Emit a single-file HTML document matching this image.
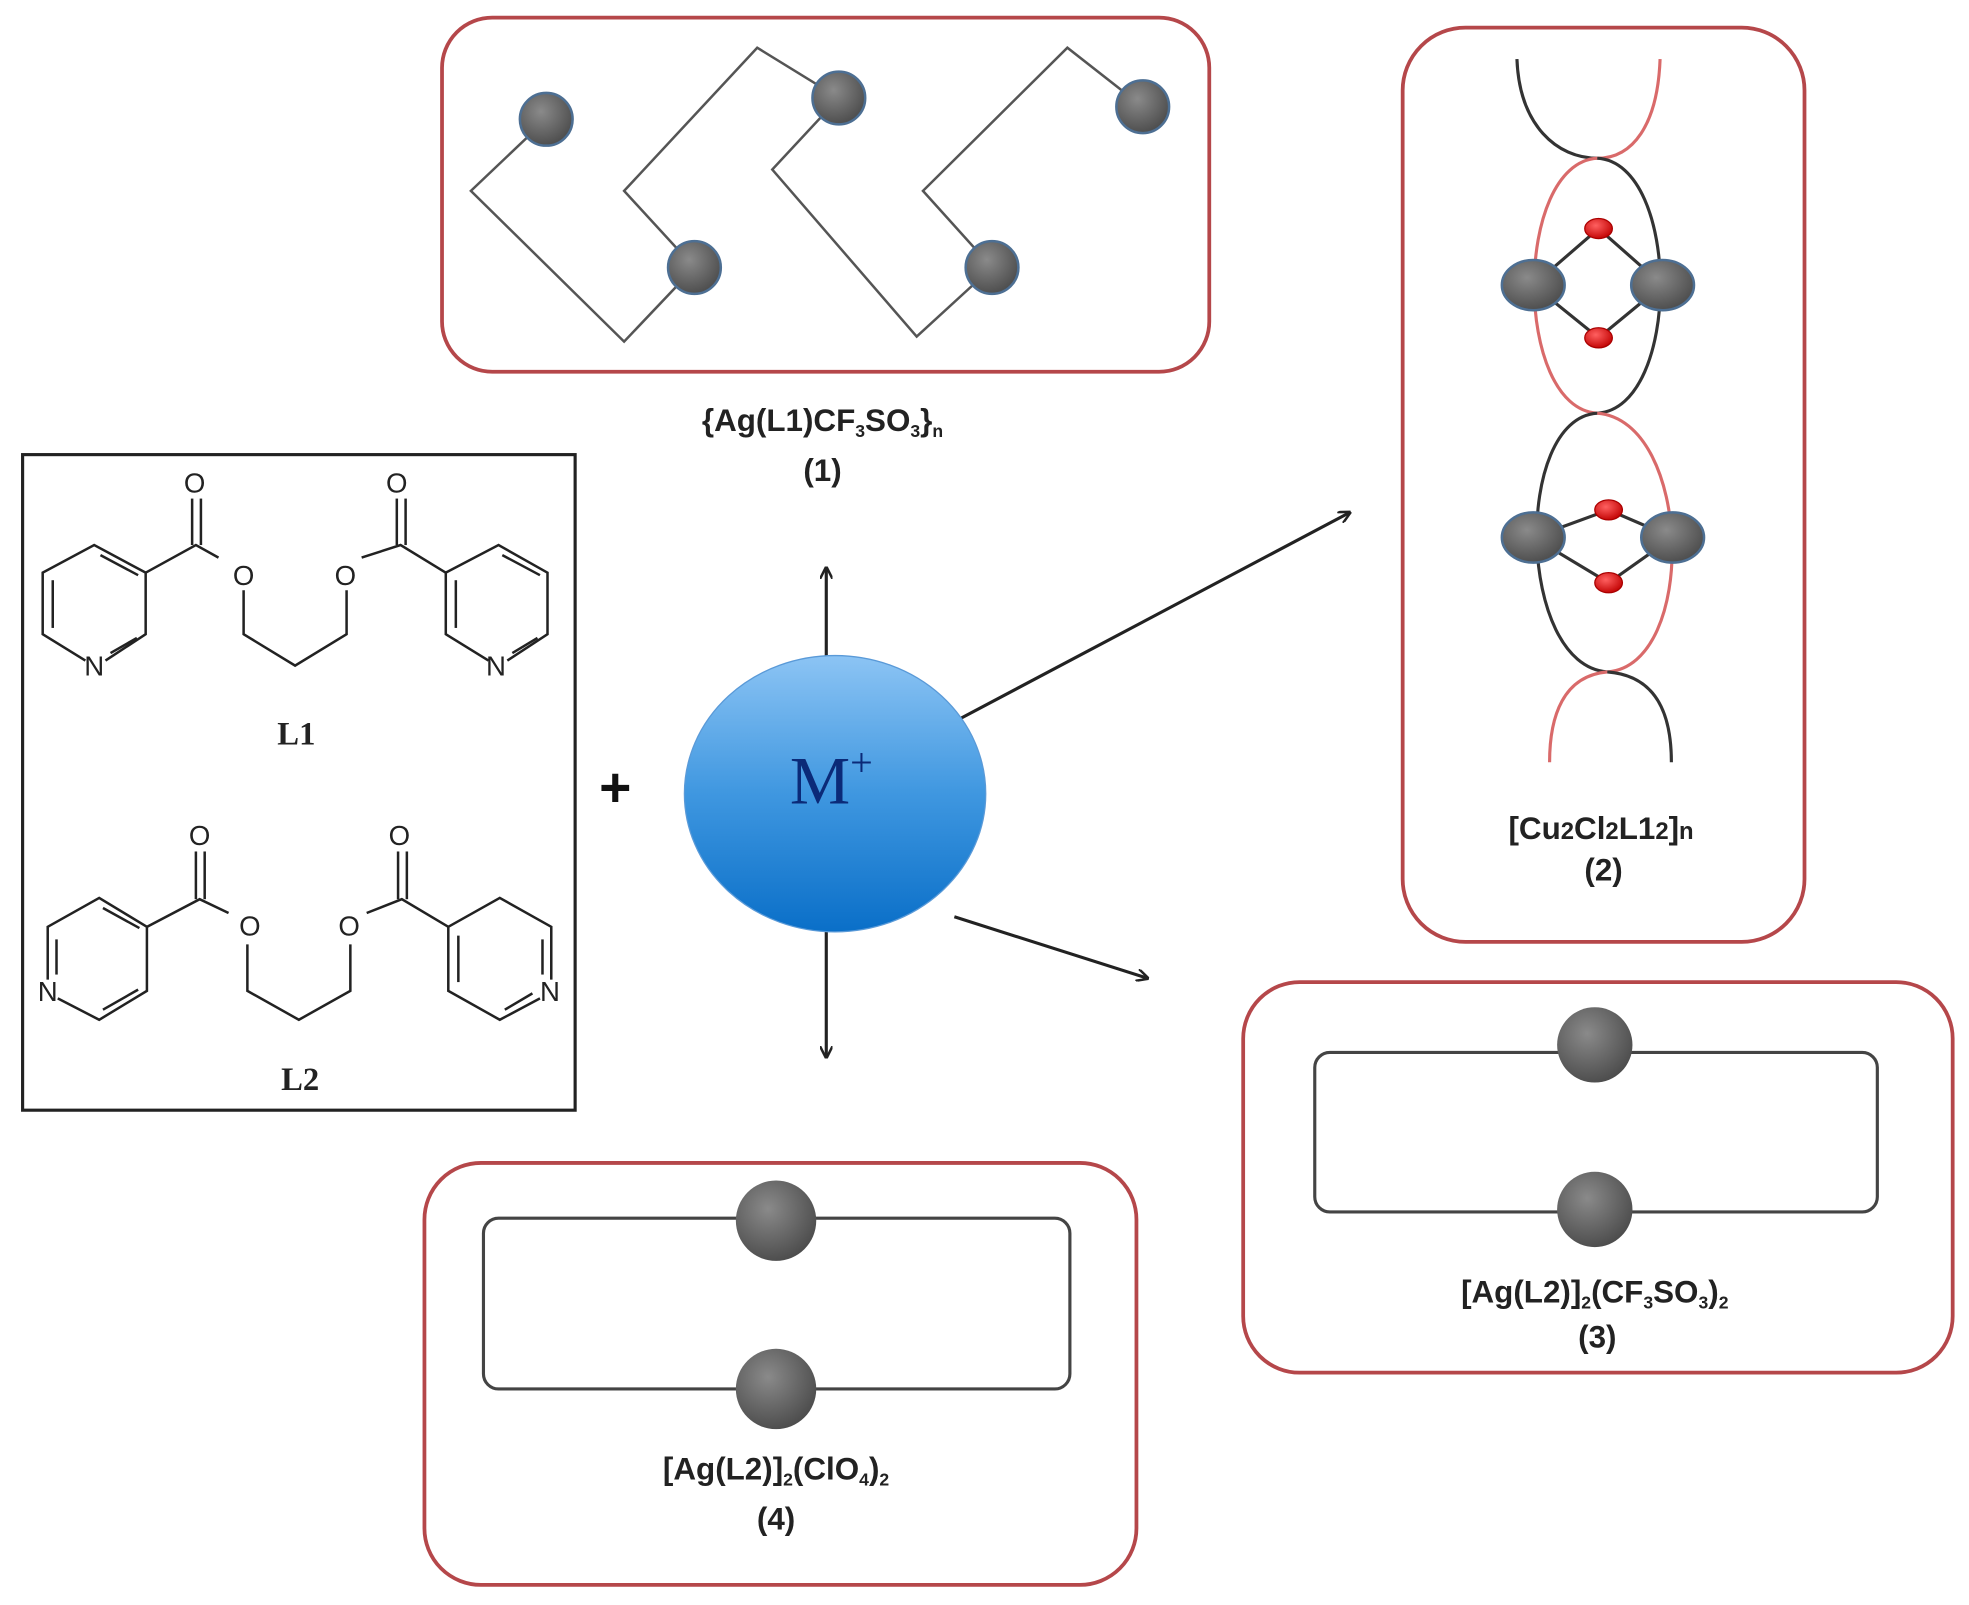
<!DOCTYPE html>
<html><head><meta charset="utf-8"><style>html,body{margin:0;padding:0;background:#fff}svg{display:block}</style></head>
<body>
<svg width="1969" height="1605" viewBox="0 0 1568 1278" preserveAspectRatio="none" xmlns="http://www.w3.org/2000/svg">
<defs>
<radialGradient id="gb" cx="40%" cy="35%" r="70%"><stop offset="0" stop-color="#8a8a8a"/><stop offset="1" stop-color="#4a4a4a"/></radialGradient>
<radialGradient id="rb" cx="40%" cy="35%" r="70%"><stop offset="0" stop-color="#ff6060"/><stop offset="1" stop-color="#c00000"/></radialGradient>
<linearGradient id="bl" x1="0" y1="0" x2="0" y2="1"><stop offset="0" stop-color="#8cc4f4"/><stop offset="0.5" stop-color="#3f97e0"/><stop offset="1" stop-color="#0a6fc8"/></linearGradient>
<marker id="ah" markerWidth="10" markerHeight="10" refX="9" refY="5" orient="auto" markerUnits="userSpaceOnUse"><path d="M0,0 L10,5 L0,10" fill="none" stroke="#222" stroke-width="2"/></marker>
</defs>
<g font-family="Liberation Sans, Arial, sans-serif">
<!-- Box 1 -->
<rect x="352" y="14" width="611" height="282" rx="40" fill="none" stroke="#b5474a" stroke-width="3"/>
<g fill="none" stroke="#555" stroke-width="2">
<polyline points="435,95 375,152 497,272 553,213"/>
<polyline points="553,213 497,152 603,38 668,78"/>
<polyline points="668,78 615,135 730,268 790,213"/>
<polyline points="790,213 735,152 850,38 910,85"/>
</g>
<g fill="url(#gb)" stroke="#4d6f93" stroke-width="2">
<circle cx="435" cy="95" r="21"/><circle cx="553" cy="213" r="21"/><circle cx="668" cy="78" r="21"/><circle cx="790" cy="213" r="21"/><circle cx="910" cy="85" r="21"/>
</g>
<text x="655" y="343" font-size="25" font-weight="bold" text-anchor="middle" fill="#222">{Ag(L1)CF<tspan font-size="14" dy="5">3</tspan><tspan dy="-5">SO</tspan><tspan font-size="14" dy="5">3</tspan><tspan dy="-5">}</tspan><tspan font-size="14" dy="5">n</tspan></text>
<text x="655" y="383" font-size="25" font-weight="bold" text-anchor="middle" fill="#222">(1)</text>

<!-- Box 2 -->
<rect x="1117" y="22" width="320" height="728" rx="50" fill="none" stroke="#b5474a" stroke-width="3"/>
<g fill="none" stroke-width="2.5">
<path d="M1208,47 C1210,100 1240,126 1272,126" stroke="#333"/>
<path d="M1322,47 C1320,100 1300,126 1272,126" stroke="#d96a6a"/>
<path d="M1272,126 C1205,130 1205,325 1272,329" stroke="#d96a6a"/>
<path d="M1272,126 C1339,130 1339,325 1272,329" stroke="#333"/>
<path d="M1272,329 C1205,333 1208,530 1280,535" stroke="#333"/>
<path d="M1272,329 C1348,335 1352,530 1280,535" stroke="#d96a6a"/>
<path d="M1280,535 C1245,538 1234,570 1234,607" stroke="#d96a6a"/>
<path d="M1280,535 C1320,538 1331,570 1331,607" stroke="#333"/>
</g>
<g stroke="#333" stroke-width="2.5" fill="none">
<polygon points="1221,227 1273,182 1324,227 1273,269"/>
<polygon points="1221,428 1281,406 1332,428 1281,464"/>
</g>
<g fill="url(#gb)" stroke="#4d6f93" stroke-width="2">
<ellipse cx="1221" cy="227" rx="25" ry="20"/><ellipse cx="1324" cy="227" rx="25" ry="20"/>
<ellipse cx="1221" cy="428" rx="25" ry="20"/><ellipse cx="1332" cy="428" rx="25" ry="20"/>
</g>
<g fill="url(#rb)" stroke="#a00" stroke-width="1">
<ellipse cx="1273" cy="182" rx="11" ry="8"/><ellipse cx="1273" cy="269" rx="11" ry="8"/>
<ellipse cx="1281" cy="406" rx="11" ry="8"/><ellipse cx="1281" cy="464" rx="11" ry="8"/>
</g>
<text x="1275" y="668" font-size="25" font-weight="bold" text-anchor="middle" fill="#222">[Cu<tspan font-size="19">2</tspan>Cl<tspan font-size="19">2</tspan>L1<tspan font-size="19">2</tspan>]<tspan font-size="19">n</tspan></text>
<text x="1277" y="701" font-size="25" font-weight="bold" text-anchor="middle" fill="#222">(2)</text>

<!-- Box 3 -->
<rect x="990" y="782" width="565" height="311" rx="45" fill="none" stroke="#b5474a" stroke-width="3"/>
<rect x="1047" y="838" width="448" height="127" rx="12" fill="none" stroke="#444" stroke-width="2.5"/>
<circle cx="1270" cy="832" r="30" fill="url(#gb)"/>
<circle cx="1270" cy="963" r="30" fill="url(#gb)"/>
<text x="1270" y="1037" font-size="25" font-weight="bold" text-anchor="middle" fill="#222">[Ag(L2)]<tspan font-size="14" dy="5">2</tspan><tspan dy="-5">(CF</tspan><tspan font-size="14" dy="5">3</tspan><tspan dy="-5">SO</tspan><tspan font-size="14" dy="5">3</tspan><tspan dy="-5">)</tspan><tspan font-size="14" dy="5">2</tspan></text>
<text x="1272" y="1073" font-size="25" font-weight="bold" text-anchor="middle" fill="#222">(3)</text>

<!-- Box 4 -->
<rect x="338" y="926" width="567" height="336" rx="45" fill="none" stroke="#b5474a" stroke-width="3"/>
<rect x="385" y="970" width="467" height="136" rx="12" fill="none" stroke="#444" stroke-width="2.5"/>
<circle cx="618" cy="972" r="32" fill="url(#gb)"/>
<circle cx="618" cy="1106" r="32" fill="url(#gb)"/>
<text x="618" y="1178" font-size="25" font-weight="bold" text-anchor="middle" fill="#222">[Ag(L2)]<tspan font-size="14" dy="5">2</tspan><tspan dy="-5">(ClO</tspan><tspan font-size="14" dy="5">4</tspan><tspan dy="-5">)</tspan><tspan font-size="14" dy="5">2</tspan></text>
<text x="618" y="1218" font-size="25" font-weight="bold" text-anchor="middle" fill="#222">(4)</text>

<!-- Ligand box -->
<rect x="18" y="362" width="440" height="522" fill="none" stroke="#222" stroke-width="2.5"/>
<g fill="none" stroke="#222" stroke-width="2">
<!-- L1 -->
<polyline points="68,526 34,505 34,456 75,434 116,456 116,505 84,526"/>
<line x1="42" y1="462" x2="42" y2="500"/><line x1="80" y1="442" x2="110" y2="458"/><line x1="88" y1="520" x2="109" y2="508"/>
<polyline points="116,456 156,434 174,444"/>
<line x1="153" y1="434" x2="153" y2="397"/><line x1="160" y1="434" x2="160" y2="397"/>
<polyline points="194,470 194,505 235,530 276,505 276,470"/>
<polyline points="288,444 319,434 355,456"/>
<line x1="316" y1="434" x2="316" y2="397"/><line x1="323" y1="434" x2="323" y2="397"/>
<polyline points="389,526 355,505 355,456 397,434 436,456 436,505 404,526"/>
<line x1="363" y1="462" x2="363" y2="500"/><line x1="400" y1="442" x2="430" y2="458"/><line x1="408" y1="520" x2="428" y2="508"/>
<!-- L2 -->
<polyline points="38,780 38,738 79,715 117,738 117,789 79,812 46,795"/>
<line x1="45" y1="748" x2="45" y2="776"/><line x1="82" y1="723" x2="111" y2="739"/><line x1="82" y1="804" x2="110" y2="788"/>
<polyline points="117,738 159,716 182,727"/>
<line x1="156" y1="716" x2="156" y2="678"/><line x1="163" y1="716" x2="163" y2="678"/>
<polyline points="197,752 197,789 238,812 279,789 279,752"/>
<polyline points="292,727 320,716 357,738"/>
<line x1="317" y1="716" x2="317" y2="678"/><line x1="324" y1="716" x2="324" y2="678"/>
<polyline points="439,780 439,738 398,715 357,738 357,789 398,812 430,795"/>
<line x1="432" y1="748" x2="432" y2="776"/><line x1="365" y1="745" x2="365" y2="782"/><line x1="402" y1="804" x2="424" y2="791"/>
</g>
<g font-size="22" text-anchor="middle" fill="#222">
<text x="155" y="392">O</text><text x="194" y="466">O</text><text x="275" y="466">O</text><text x="316" y="392">O</text>
<text x="75" y="538">N</text><text x="395" y="538">N</text>
<text x="159" y="673">O</text><text x="199" y="745">O</text><text x="278" y="745">O</text><text x="318" y="673">O</text>
<text x="38" y="797">N</text><text x="438" y="797">N</text>
</g>
<g font-family="Liberation Serif, serif" font-size="26" font-weight="bold" text-anchor="middle" fill="#222">
<text x="236" y="593">L1</text><text x="239" y="868">L2</text>
</g>
<text x="490" y="642" font-size="44" font-weight="bold" text-anchor="middle" fill="#111">+</text>

<!-- M+ -->
<g stroke="#222" stroke-width="2.5" fill="none">
<line x1="658" y1="522" x2="658" y2="452" marker-end="url(#ah)"/>
<line x1="658" y1="740" x2="658" y2="842" marker-end="url(#ah)"/>
<line x1="765" y1="572" x2="1075" y2="408" marker-end="url(#ah)"/>
<line x1="760" y1="730" x2="914" y2="779" marker-end="url(#ah)"/>
</g>
<ellipse cx="665" cy="632" rx="120" ry="110" fill="url(#bl)" stroke="#5a9ad8" stroke-width="1"/>
<text x="662" y="640" font-family="Liberation Serif, serif" font-size="54" text-anchor="middle" fill="#0b2a78">M<tspan font-size="32" dy="-22">+</tspan></text>
</g>
</svg>
</body></html>
